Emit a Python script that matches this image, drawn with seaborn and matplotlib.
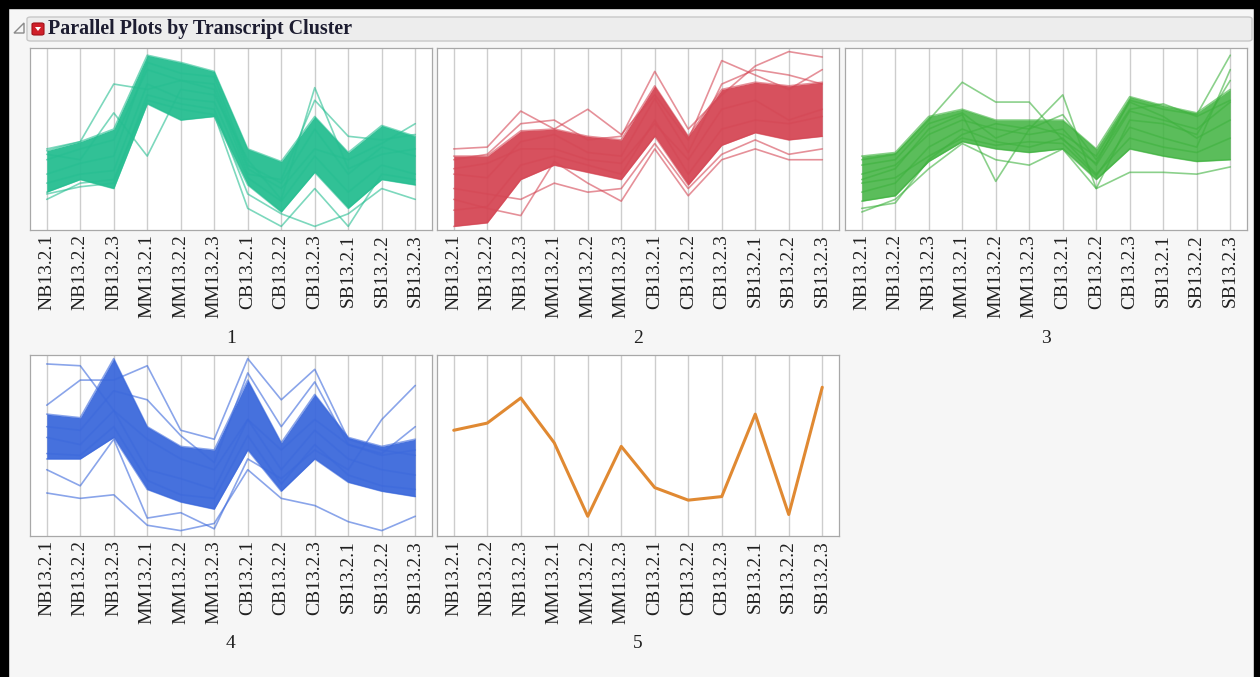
import numpy as np
import pandas as pd
import matplotlib
matplotlib.use("Agg")
import matplotlib.pyplot as plt
import seaborn as sns
from matplotlib.patches import Rectangle, FancyBboxPatch, Polygon

# ---------------- data (scaled expression) ----------------
samples = ["NB13.2.1", "NB13.2.2", "NB13.2.3", "MM13.2.1", "MM13.2.2", "MM13.2.3",
           "CB13.2.1", "CB13.2.2", "CB13.2.3", "SB13.2.1", "SB13.2.2", "SB13.2.3"]
cluster_names = ["1", "2", "3", "4", "5"]
title = "Parallel Plots by Transcript Cluster"

# cluster 1: dense core envelope + individual profiles
c1_upper = [43, 48, 55, 96, 92, 87, 44, 37, 62, 42, 57, 51]
c1_lower = [20, 27, 22, 69, 60, 62, 24, 9, 31, 11, 27, 24]
c1_lines = [
    [44, 48, 80, 77, 82, 80, 33, 22, 44, 38, 47, 58],
    [41, 38, 64, 40, 77, 74, 38, 16, 78, 33, 41, 44],
    [16, 25, 27, 71, 66, 63, 11, 1, 22, 1, 30, 27],
    [19, 23, 25, 74, 69, 66, 19, 8, 1, 8, 22, 16],
    [38, 44, 49, 88, 82, 77, 30, 27, 71, 51, 49, 52],
    [30, 36, 40, 92, 86, 84, 35, 25, 55, 30, 45, 40],
    [25, 30, 32, 80, 72, 70, 28, 15, 40, 20, 35, 30],
]
# cluster 2
c2_upper = [40, 40, 54, 55, 51, 49, 79, 51, 77, 81, 79, 81]
c2_lower = [1, 3, 27, 35, 31, 27, 51, 24, 46, 53, 49, 51]
c2_lines = [
    [44, 45, 65, 55, 66, 52, 74, 49, 93, 85, 77, 88],
    [38, 41, 58, 60, 49, 51, 87, 55, 74, 90, 98, 95],
    [16, 11, 7, 37, 25, 15, 44, 18, 38, 44, 38, 38],
    [22, 19, 16, 25, 20, 22, 47, 22, 41, 49, 41, 44],
    [33, 36, 44, 44, 38, 36, 58, 38, 66, 71, 60, 66],
    [30, 28, 48, 52, 42, 40, 72, 42, 80, 88, 85, 80],
    [10, 12, 35, 40, 35, 30, 60, 30, 55, 60, 58, 62],
]
# cluster 3
c3_upper = [40, 42, 62, 66, 60, 60, 60, 44, 73, 68, 64, 77]
c3_lower = [15, 18, 37, 48, 44, 42, 44, 27, 44, 40, 37, 38]
c3_lines = [
    [38, 41, 60, 81, 70, 70, 49, 36, 71, 66, 63, 96],
    [27, 33, 55, 63, 26, 55, 74, 22, 60, 58, 52, 82],
    [9, 16, 33, 47, 38, 35, 44, 22, 31, 31, 30, 34],
    [11, 14, 38, 52, 58, 55, 63, 38, 66, 69, 62, 71],
    [30, 35, 52, 60, 55, 52, 55, 35, 65, 60, 55, 70],
    [20, 25, 45, 55, 48, 45, 50, 30, 50, 45, 42, 50],
    [35, 38, 58, 64, 50, 57, 52, 40, 70, 62, 50, 60],
    [25, 28, 40, 50, 46, 48, 47, 29, 56, 50, 45, 88],
]
# cluster 4
c4_upper = [67, 65, 98, 60, 49, 47, 86, 51, 78, 54, 49, 53]
c4_lower = [42, 42, 54, 25, 18, 14, 47, 24, 42, 29, 24, 21]
c4_lines = [
    [95, 94, 69, 53, 42, 36, 64, 47, 64, 50, 44, 47],
    [72, 86, 86, 94, 58, 53, 98, 75, 92, 53, 47, 44],
    [23, 20, 22, 5, 2, 6, 36, 20, 16, 7, 2, 10],
    [36, 27, 53, 9, 12, 3, 42, 31, 47, 36, 64, 83],
    [54, 50, 69, 36, 31, 25, 64, 36, 58, 42, 36, 33],
    [60, 58, 80, 75, 55, 40, 90, 60, 85, 50, 45, 60],
    [45, 44, 60, 30, 22, 20, 55, 28, 50, 33, 27, 25],
]
# cluster 5: single transcript
c5_line = [58, 62, 76, 51, 10, 49, 26, 19, 21, 67, 11, 82]

clusters = [
    dict(upper=c1_upper, lower=c1_lower, lines=c1_lines, color="#26be91", fill=0.95),
    dict(upper=c2_upper, lower=c2_lower, lines=c2_lines, color="#d54755", fill=0.95),
    dict(upper=c3_upper, lower=c3_lower, lines=c3_lines, color="#3eb23e", fill=0.85),
    dict(upper=c4_upper, lower=c4_lower, lines=c4_lines, color="#3c69dc", fill=0.95),
    dict(upper=None, lower=None, lines=[c5_line], color="#e08932", fill=0),
]

# ---------------- figure ----------------
W, H = 1260, 677
sns.set_theme(style="white")
plt.rcParams["font.family"] = ["Liberation Serif", "DejaVu Serif"]

fig = plt.figure(figsize=(W / 100, H / 100), dpi=100)
fig.patch.set_facecolor("#f6f6f6")


def fx(px):
    return px / W


def fy(py):
    return 1 - py / H


# black screenshot border
fig.patches.append(Rectangle((0, fy(8)), 1, 8 / H, transform=fig.transFigure, color="black", zorder=5))
fig.patches.append(Rectangle((0, 0), fx(8), 1, transform=fig.transFigure, color="black", zorder=5))
fig.patches.append(Rectangle((fx(1254), 0), fx(6), 1, transform=fig.transFigure, color="black", zorder=5))

# header bar
fig.patches.append(FancyBboxPatch((fx(27), fy(41)), fx(1225), 24 / H, boxstyle="round,pad=0,rounding_size=0.003",
                                  transform=fig.transFigure, facecolor="#ededed", edgecolor="#c8c8c8", lw=1))
# disclosure triangle
fig.patches.append(Polygon([(fx(14), fy(33)), (fx(24), fy(33)), (fx(24), fy(23))], closed=True,
                           transform=fig.transFigure, facecolor="none", edgecolor="#8a8a8a", lw=1))
# red dropdown button
fig.patches.append(FancyBboxPatch((fx(32), fy(35)), fx(12), 12 / H, boxstyle="round,pad=0,rounding_size=0.002",
                                  transform=fig.transFigure, facecolor="#d0202a", edgecolor="#a01018", lw=0.8))
fig.patches.append(Polygon([(fx(35), fy(27)), (fx(41), fy(27)), (fx(38), fy(31))], closed=True,
                           transform=fig.transFigure, facecolor="white", edgecolor="none"))
fig.text(fx(48), fy(29), title, fontsize=14.4, fontweight="bold", color="#1c1c30",
         va="center", ha="left")

# panel positions (pixels)
panel_lefts = [30, 437, 845]
panel_w = 402
rows = [(48, 230), (355, 536)]
label_y = [338, 643]

for i, cl in enumerate(clusters):
    r, c = divmod(i, 3)
    top, bot = rows[r]
    left = panel_lefts[c]
    ax = fig.add_axes([fx(left), fy(bot), fx(panel_w), (bot - top) / H])
    ax.set_facecolor("white")

    recs = []
    for k, vals in enumerate(cl["lines"]):
        for j, v in enumerate(vals):
            recs.append(dict(line=k, pos=j, value=v))
    if cl["upper"] is not None:
        for name in ("upper", "lower"):
            for j, v in enumerate(cl[name]):
                recs.append(dict(line=name, pos=j, value=v))
    df = pd.DataFrame(recs)

    x = np.arange(len(samples))
    if cl["upper"] is not None:
        ax.fill_between(x, cl["lower"], cl["upper"], color=cl["color"], alpha=cl["fill"], lw=0, zorder=2)
        sns.lineplot(data=df, x="pos", y="value", units="line", estimator=None, color=cl["color"],
                     lw=1.2, alpha=0.6, ax=ax, zorder=3)
    else:
        sns.lineplot(data=df, x="pos", y="value", units="line", estimator=None, color=cl["color"],
                     lw=2.2, alpha=1.0, ax=ax, zorder=3)

    ax.set_xlim(-0.5, len(samples) - 0.5)
    ax.set_ylim(-1, 100)
    ax.set_xticks(x)
    ax.set_xticklabels(samples, rotation=90, fontsize=14, color="#202020")
    ax.set_yticks([])
    ax.set_xlabel("")
    ax.set_ylabel("")
    ax.tick_params(axis="x", length=0, pad=3)
    for xv in x:
        ax.axvline(xv, color="#cdcdcd", lw=1, zorder=1)
    for s in ax.spines.values():
        s.set_color("#a8a8a8")
        s.set_linewidth(0.9)

    fig.text(fx(left + panel_w / 2), fy(label_y[r]), cluster_names[i], fontsize=14,
             ha="center", va="center", color="#202020")

fig.savefig("out.png", dpi=100, facecolor=fig.get_facecolor())
